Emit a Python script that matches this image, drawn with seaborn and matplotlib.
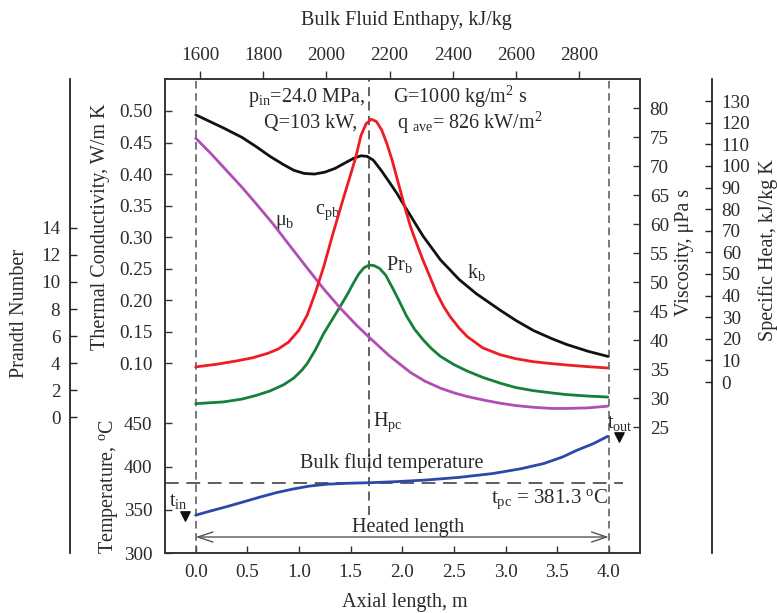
import matplotlib
matplotlib.use("Agg")
import matplotlib.pyplot as plt
import seaborn as sns

# ---------------- data ----------------
# thermal conductivity k_b, W/m K
z_k = [0.0, 0.27, 0.45, 0.59, 0.72, 0.85, 0.95, 1.05, 1.15, 1.25, 1.35, 1.45,
       1.53, 1.60, 1.66, 1.72, 1.80, 1.88, 1.95, 2.02, 2.08, 2.20, 2.37, 2.55,
       2.72, 2.95, 3.10, 3.27, 3.45, 3.59, 3.80, 3.99]
k_b = [0.494, 0.473, 0.458, 0.443, 0.428, 0.415, 0.406, 0.401, 0.400, 0.403,
       0.409, 0.418, 0.425, 0.429, 0.428, 0.422, 0.405, 0.386, 0.369, 0.350,
       0.334, 0.302, 0.264, 0.233, 0.210, 0.184, 0.168, 0.152, 0.139, 0.130,
       0.119, 0.111]
# specific heat c_pb, kJ/kg K
z_cp = [0.0, 0.20, 0.40, 0.55, 0.70, 0.80, 0.90, 1.00, 1.08, 1.16, 1.24, 1.33,
        1.43, 1.50, 1.55, 1.60, 1.65, 1.70, 1.75, 1.80, 1.85, 1.90, 1.98, 2.03,
        2.08, 2.14, 2.20, 2.27, 2.33, 2.40, 2.46, 2.55, 2.63, 2.78, 2.95, 3.10,
        3.27, 3.45, 3.59, 3.80, 3.99]
cp_b = [7.0, 8.2, 9.8, 11.2, 13.3, 15.3, 18.5, 24.0, 31.0, 41.5, 53.4, 68.8,
        85.0, 96.0, 104.0, 114.0, 119.5, 121.6, 120.5, 116.7, 110.5, 103.0,
        88.9, 80.0, 71.9, 64.0, 56.5, 48.5, 41.5, 35.0, 30.5, 25.0, 21.0, 15.8,
        12.6, 10.8, 9.4, 8.5, 7.9, 7.1, 6.5]
# Prandtl number Pr_b
z_pr = [0.0, 0.27, 0.45, 0.59, 0.72, 0.85, 0.95, 1.03, 1.08, 1.16, 1.24, 1.32,
        1.40, 1.47, 1.53, 1.58, 1.63, 1.68, 1.73, 1.78, 1.84, 1.91, 1.97, 2.04,
        2.12, 2.20, 2.28, 2.37, 2.50, 2.62, 2.78, 2.95, 3.10, 3.27, 3.45, 3.59,
        3.80, 3.99]
pr_b = [1.01, 1.14, 1.35, 1.63, 1.95, 2.40, 2.90, 3.50, 3.98, 5.00, 6.20, 7.20,
        8.20, 9.10, 9.95, 10.60, 11.05, 11.25, 11.20, 11.00, 10.50, 9.50, 8.60,
        7.50, 6.50, 5.75, 5.10, 4.50, 3.90, 3.45, 2.95, 2.52, 2.20, 1.97, 1.80,
        1.68, 1.57, 1.50]
# viscosity mu_b, uPa s
z_mu = [0.0, 0.15, 0.30, 0.45, 0.59, 0.75, 0.91, 1.08, 1.24, 1.40, 1.56, 1.69,
        1.80, 1.88, 2.08, 2.22, 2.37, 2.50, 2.62, 2.80, 2.95, 3.10, 3.27, 3.45,
        3.59, 3.80, 3.99]
mu_b = [74.8, 72.1, 69.2, 66.3, 63.4, 60.0, 56.3, 52.4, 48.8, 45.5, 42.5, 40.3,
        38.5, 37.2, 34.4, 32.9, 31.7, 30.9, 30.3, 29.6, 29.1, 28.7, 28.4, 28.2,
        28.2, 28.3, 28.6]
# bulk fluid temperature, deg C
z_t = [0.0, 0.15, 0.30, 0.45, 0.62, 0.78, 0.95, 1.10, 1.27, 1.45, 1.68, 1.95,
       2.24, 2.55, 2.88, 3.15, 3.37, 3.55, 3.69, 3.85, 3.99]
t_b = [343.8, 348.8, 353.6, 358.7, 364.6, 369.8, 374.2, 377.4, 379.6, 380.6,
       381.3, 382.6, 384.5, 387.5, 392.0, 397.5, 403.5, 411.0, 418.8, 426.5,
       435.0]

t_pc = 381.3
z_hpc = 1.68
heated_length = 4.0

x_ticks = [0.0, 0.5, 1.0, 1.5, 2.0, 2.5, 3.0, 3.5, 4.0]
h_ticks = [1600, 1800, 2000, 2200, 2400, 2600, 2800]
k_ticks = [0.10, 0.15, 0.20, 0.25, 0.30, 0.35, 0.40, 0.45, 0.50]
t_ticks = [300, 350, 400, 450]
pr_ticks = [0, 2, 4, 6, 8, 10, 12, 14]
mu_ticks = [25, 30, 35, 40, 45, 50, 55, 60, 65, 70, 75, 80]
cp_ticks = [0, 10, 20, 30, 40, 50, 60, 70, 80, 90, 100, 110, 120, 130]

# ---------------- style ----------------
sns.set_style("ticks")
plt.rcParams["font.family"] = ["Liberation Serif", "DejaVu Serif"]
plt.rcParams["mathtext.fontset"] = "custom"
plt.rcParams["mathtext.rm"] = "Liberation Serif"
plt.rcParams["mathtext.it"] = "Liberation Serif:italic"
plt.rcParams["font.size"] = 13.5
TXT = "#2a2a2a"
SP = "#333333"
C_K, C_CP, C_PR, C_MU, C_T = "#111111", "#ee1c24", "#158038", "#b24db4", "#2c48a8"
FS = 13.8    # tick labels
FA = 14.5    # titles and annotations

W, H = 777, 613
fig = plt.figure(figsize=(W / 100, H / 100), dpi=100)
L, R, T, B = 165, 640, 79, 553
ax = fig.add_axes([L / W, 1 - B / H, (R - L) / W, (B - T) / H])
ax.set_xlim(-0.297, 4.302)
ax.set_ylim(-0.2007, 0.5507)


def fpos(x, y):
    return x / W, 1 - y / H


for s in ax.spines.values():
    s.set_visible(True)
    s.set_color(SP)
    s.set_linewidth(1.4)
ax.xaxis.set_ticks_position("bottom")
ax.yaxis.set_ticks_position("left")
ax.set_xticks(x_ticks)
ax.set_xticklabels([f"{v:.1f}" for v in x_ticks])
ax.set_yticks(k_ticks)
ax.set_yticklabels([f"{v:.2f}" for v in k_ticks])
ax.tick_params(axis="x", direction="in", length=5, width=1, color=SP, pad=8,
               labelsize=FS, labelcolor=TXT)
ax.tick_params(axis="y", direction="in", length=5, width=1, color=SP, pad=9,
               labelsize=FS, labelcolor=TXT)

# temperature axis (left, same spine)
axT = ax.twinx()
axT.set_ylim(300, 848.4)
for s in axT.spines.values():
    s.set_visible(False)
axT.yaxis.tick_left()
axT.set_yticks(t_ticks)
axT.tick_params(axis="y", direction="in", length=5, width=1, color=SP, pad=9,
                labelsize=FS, labelcolor=TXT)

# Prandtl axis (outer left)
axPr = ax.twinx()
axPr.set_ylim(-10.02, 24.99)
for s in axPr.spines.values():
    s.set_visible(False)
axPr.spines["left"].set_visible(True)
axPr.spines["left"].set_position(("axes", (70 - L) / (R - L)))
axPr.spines["left"].set_color("#111111")
axPr.spines["left"].set_linewidth(1.2)
axPr.yaxis.tick_left()
axPr.set_yticks(pr_ticks)
axPr.tick_params(axis="y", direction="in", length=5, width=1, pad=7,
                 labelsize=FS, labelcolor=TXT)

# viscosity axis (right, main spine)
axMu = ax.twinx()
axMu.set_ylim(3.28, 85.0)
for s in axMu.spines.values():
    s.set_visible(False)
axMu.yaxis.tick_right()
axMu.set_yticks(mu_ticks)
axMu.tick_params(axis="y", direction="in", length=5, width=1, color=SP, pad=7,
                 labelsize=FS, labelcolor=TXT)

# specific heat axis (outer right)
axCp = ax.twinx()
axCp.set_ylim(-79.1, 140.2)
for s in axCp.spines.values():
    s.set_visible(False)
axCp.spines["right"].set_visible(True)
axCp.spines["right"].set_position(("axes", (712 - L) / (R - L)))
axCp.spines["right"].set_color("#111111")
axCp.spines["right"].set_linewidth(1.2)
axCp.yaxis.tick_right()
axCp.set_yticks(cp_ticks)
axCp.tick_params(axis="y", direction="in", length=5, width=1, pad=7,
                 labelsize=FS, labelcolor=TXT)

# enthalpy axis (top)
axH = ax.twiny()
axH.set_xlim(1489.2, 2993.0)
for s in axH.spines.values():
    s.set_visible(False)
axH.xaxis.tick_top()
axH.set_xticks(h_ticks)
axH.tick_params(axis="x", direction="out", length=6, width=1, color=SP, pad=5,
                labelsize=FS, labelcolor=TXT)

# ---------------- reference lines ----------------
dash = (0, (5, 3))
ax.axvline(0.0, color="#555555", lw=1.1, ls=dash, zorder=1)
ax.axvline(heated_length, color="#555555", lw=1.1, ls=dash, zorder=1)
ax.axvline(z_hpc, ymin=0.08, color="#555555", lw=1.3, ls=dash, zorder=1)
axT.axhline(t_pc, xmin=0, xmax=(623 - L) / (R - L), color="#333333", lw=1.1,
            ls=(0, (9, 5)), zorder=1)

# ---------------- curves ----------------
lw = 2.0
sns.lineplot(x=z_k, y=k_b, ax=ax, color=C_K, lw=lw, sort=False, estimator=None)
sns.lineplot(x=z_cp, y=cp_b, ax=axCp, color=C_CP, lw=lw, sort=False, estimator=None)
sns.lineplot(x=z_pr, y=pr_b, ax=axPr, color=C_PR, lw=lw, sort=False, estimator=None)
sns.lineplot(x=z_mu, y=mu_b, ax=axMu, color=C_MU, lw=lw, sort=False, estimator=None)
sns.lineplot(x=z_t, y=t_b, ax=axT, color=C_T, lw=lw, sort=False, estimator=None)
for a in (ax, axT, axPr, axMu, axCp, axH):
    a.set_xlabel("")
    a.set_ylabel("")
ax.set_xlim(-0.297, 4.302)
axH.set_xlim(1489.2, 2993.0)

# heated length arrow
axT.annotate("", xy=(0.0, 318.5), xytext=(heated_length, 318.5),
             arrowprops=dict(arrowstyle="<->,head_length=0.9,head_width=0.3",
                             color="#555555", lw=1.0, mutation_scale=12,
                             shrinkA=0, shrinkB=0))

# markers t_in / t_out
axT.scatter([-0.10, 4.10], [342.7, 434.0], marker="v", s=45, color="#111111",
            zorder=5, clip_on=False)

# ---------------- annotations ----------------
ax.text(1.64, 0.522, r"p$_\mathregular{in}$=24.0 MPa,", ha="right", va="center",
        fontsize=FA, color=TXT)
ax.text(1.56, 0.481, "Q=103 kW,", ha="right", va="center", fontsize=FA, color=TXT)
ax.text(1.91, 0.522, r"G=1000 kg/m$^\mathregular{2}$ s", ha="left", va="center",
        fontsize=FA, color=TXT)
ax.text(1.95, 0.481, r"q $_\mathregular{ave}$= 826 kW/m$^\mathregular{2}$",
        ha="left", va="center", fontsize=FA, color=TXT)
ax.text(1.28, 0.340, r"c$_\mathregular{pb}$", ha="center", va="center",
        fontsize=FA, color=TXT)
ax.text(0.86, 0.324, "μ$_\\mathregular{b}$", ha="center", va="center",
        fontsize=FA, color=TXT)
ax.text(1.97, 0.256, r"Pr$_\mathregular{b}$", ha="center", va="center",
        fontsize=FA, color=TXT)
ax.text(2.72, 0.244, r"k$_\mathregular{b}$", ha="center", va="center",
        fontsize=FA, color=TXT)
axT.text(1.72, 451, r"H$_\mathregular{pc}$", ha="left", va="center",
         fontsize=FA, color=TXT)
axT.text(1.895, 404, "Bulk fluid temperature", ha="center", va="center",
         fontsize=FA, color=TXT)
axT.text(3.43, 362, r"t$_\mathregular{pc}$ = 381.3 $^\mathregular{o}$C",
         ha="center", va="center", fontsize=FA + 0.5, color=TXT)
axT.text(2.06, 330, "Heated length", ha="center", va="center", fontsize=FA,
         color=TXT)
axT.text(-0.17, 360, r"t$_\mathregular{in}$", ha="center", va="center",
         fontsize=FA, color=TXT)
axT.text(4.11, 450, r"t$_\mathregular{out}$", ha="center", va="center",
         fontsize=FA, color=TXT)

# ---------------- axis titles ----------------
fig.text(*fpos(406, 20), "Bulk Fluid Enthapy, kJ/kg", ha="center", va="center",
         fontsize=FA, color=TXT)
fig.text(*fpos(405, 603), "Axial length, m", ha="center", va="center",
         fontsize=FA, color=TXT)
fig.text(*fpos(101, 227), "Thermal Conductivity, W/m K", rotation=90,
         ha="center", va="center", fontsize=FA, color=TXT)
fig.text(*fpos(108, 487), r"Temperature, $^\mathregular{o}$C", rotation=90,
         ha="center", va="center", fontsize=FA, color=TXT)
fig.text(*fpos(20, 313), "Prandtl Number", rotation=90, ha="center",
         va="center", fontsize=FA, color=TXT)
fig.text(*fpos(685, 252), "Viscosity, μPa s", rotation=90, ha="center",
         va="center", fontsize=FA, color=TXT)
fig.text(*fpos(768, 250), "Specific Heat, kJ/kg K", rotation=90, ha="center",
         va="center", fontsize=FA, color=TXT)

fig.savefig("out.png", dpi=100)
